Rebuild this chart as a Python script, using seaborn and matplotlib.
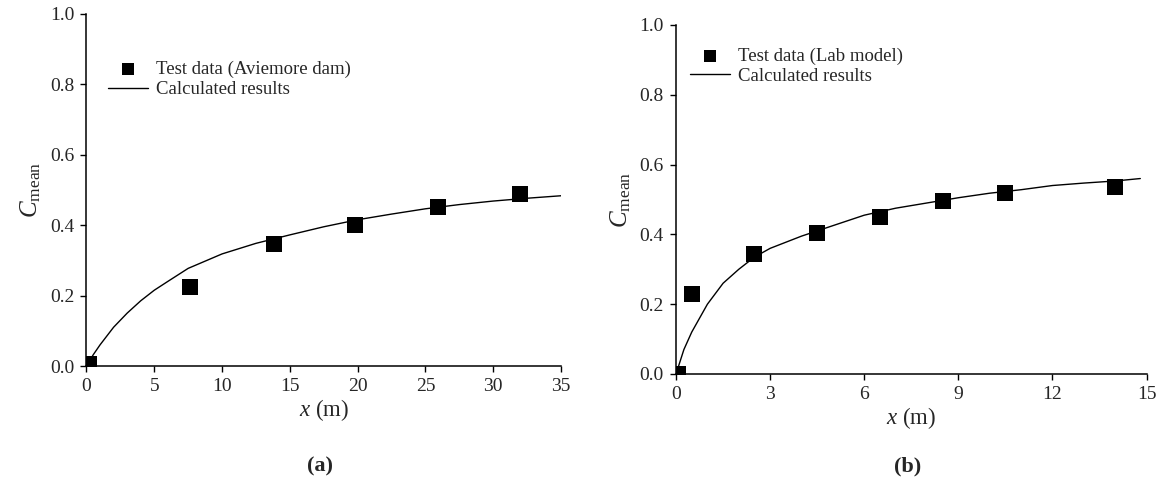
import matplotlib
matplotlib.use('Agg')
import matplotlib.pyplot as plt
import seaborn as sns
import pandas as pd

# (a) Aviemore dam
a_test_x = [0.2, 7.6, 13.8, 19.8, 25.9, 32.0]
a_test_y = [0.005, 0.225, 0.345, 0.40, 0.45, 0.487]
a_calc_x = [0, 0.5, 1, 2, 3, 4, 5, 6, 7.5, 10, 12.5, 15, 17.5, 20, 22.5, 25, 27.5, 30, 32.5, 35]
a_calc_y = [0, 0.032, 0.06, 0.11, 0.15, 0.185, 0.215, 0.24, 0.277, 0.318, 0.348, 0.372, 0.395,
            0.415, 0.431, 0.446, 0.458, 0.468, 0.476, 0.483]

# (b) Lab model
b_test_x = [0.05, 0.5, 2.5, 4.5, 6.5, 8.5, 10.5, 14.0]
b_test_y = [0.0, 0.23, 0.345, 0.403, 0.45, 0.497, 0.518, 0.535]
b_calc_x = [0, 0.25, 0.5, 1, 1.5, 2, 2.5, 3, 4, 4.5, 5, 6, 7, 8, 9, 10, 11, 12, 13, 14, 14.8]
b_calc_y = [0, 0.07, 0.12, 0.2, 0.26, 0.3, 0.335, 0.36, 0.395, 0.41, 0.425, 0.455, 0.475,
            0.49, 0.505, 0.518, 0.528, 0.54, 0.547, 0.553, 0.56]

sns.set_style('ticks')
plt.rcParams['font.family'] = ['Liberation Serif', 'DejaVu Serif']
plt.rcParams['mathtext.fontset'] = 'custom'
plt.rcParams['mathtext.rm'] = 'Liberation Serif'
plt.rcParams['mathtext.it'] = 'Liberation Serif:italic'
plt.rcParams['xtick.direction'] = 'out'
plt.rcParams['ytick.direction'] = 'out'

fig = plt.figure(figsize=(11.67, 4.83), dpi=100)
ax1 = fig.add_axes([0.0741, 0.2422, 0.4066, 0.7298])
ax2 = fig.add_axes([0.5793, 0.2257, 0.4032, 0.7226])

panels = [
    (ax1, a_test_x, a_test_y, a_calc_x, a_calc_y, 'Test data (Aviemore dam)', 35, 5, '(a)', (0.045, 0.865)),
    (ax2, b_test_x, b_test_y, b_calc_x, b_calc_y, 'Test data (Lab model)', 15, 3, '(b)', (0.03, 0.935)),
]

for ax, tx, ty, cx, cy, lab, xmax, step, tag, anchor in panels:
    calc = pd.DataFrame({'x': cx, 'y': cy})
    test = pd.DataFrame({'x': tx, 'y': ty})
    sns.lineplot(data=calc, x='x', y='y', ax=ax, color='black', linewidth=1.0,
                 sort=False, label='Calculated results')
    sns.scatterplot(data=test, x='x', y='y', ax=ax, marker='s', s=120, color='black',
                    edgecolor='black', linewidth=0, label=lab, zorder=3)
    ax.set_xlim(0, xmax)
    ax.set_ylim(0, 1.0)
    ax.set_xticks(range(0, xmax + 1, step))
    ax.set_yticks([0, 0.2, 0.4, 0.6, 0.8, 1.0])
    ax.set_yticklabels(['0.0', '0.2', '0.4', '0.6', '0.8', '1.0'])
    ax.tick_params(labelsize=14, length=4.3, width=1, color='black', pad=4.5)
    sns.despine(ax=ax)
    for sp in ['left', 'bottom']:
        ax.spines[sp].set_color('black')
        ax.spines[sp].set_linewidth(1.1)
    ax.set_xlabel(r'$\mathit{x}$ (m)', fontsize=16.5, labelpad=1)
    ax.set_ylabel(r'$\mathit{C}_{\mathrm{mean}}$', fontsize=18, labelpad=5)
    h, l = ax.get_legend_handles_labels()
    ax.legend(h[::-1], l[::-1], loc='upper left', bbox_to_anchor=anchor, frameon=False,
              fontsize=13.5, handlelength=2.15, handletextpad=0.4, labelspacing=0.15,
              borderaxespad=0, borderpad=0, markerscale=0.8)
    pos = ax.get_position()
    fig.text(pos.x0 + pos.width / 2 - 0.003, 0.035, tag, ha='center', va='center',
             fontsize=16, fontweight='bold')

fig.savefig('out.png', dpi=100)
